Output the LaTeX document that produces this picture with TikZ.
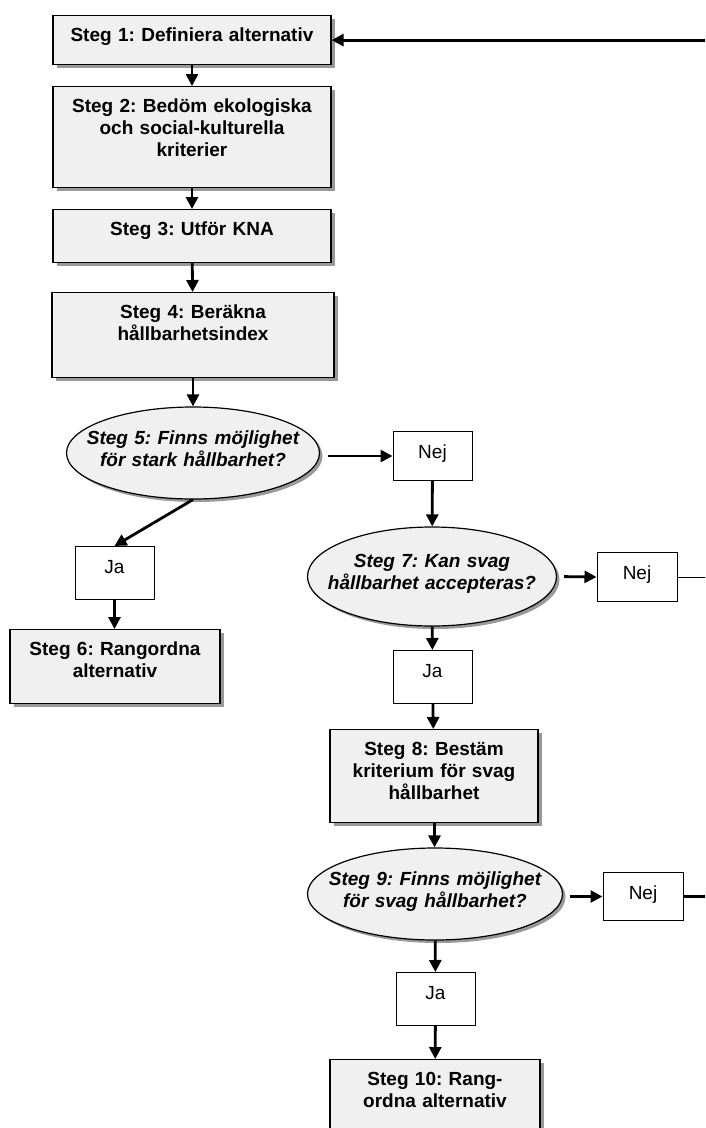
\documentclass[tikz,border=0pt]{standalone}
\usepackage{fontspec}
\setmainfont{Liberation Sans}
\usepackage{tikz}
\usetikzlibrary{arrows.meta}
\usetikzlibrary{shapes.geometric,shadows}
\usetikzlibrary{positioning}
\colorlet{boxfill}{black!6}
\colorlet{shadowgray}{black!40}
\frenchspacing

\begin{document}
\begin{tikzpicture}[
x=1pt, y=-1pt,
StepBox/.style={rectangle,draw,line width=1.2pt,fill=boxfill,anchor=north,align=center,
  inner xsep=4pt,inner ysep=0pt,text height=26pt,font=\bfseries\fontsize{19}{22}\selectfont,
  drop shadow={shadow xshift=3.5pt,shadow yshift=-3.5pt,fill=shadowgray,opacity=1}},
Question/.style={ellipse,draw,line width=1.2pt,fill=boxfill,align=center,text width=240pt,
  inner xsep=-40pt,inner ysep=0pt,text height=15pt,text depth=33pt,
  font=\bfseries\itshape\fontsize{19}{22}\selectfont,
  drop shadow={shadow xshift=3pt,shadow yshift=-3pt,fill=shadowgray,opacity=1}},
Answer/.style={rectangle,draw,line width=1pt,fill=white,anchor=north,align=center,
  minimum width=79pt,inner sep=0pt,text height=27pt,font=\fontsize{19}{22}\selectfont},
Flow/.style={-{Triangle[length=12pt,width=12pt]},line width=2.8pt},
Exit/.style={line width=#1}
]
\clip (0,0) rectangle (705,1128);

% right edge of the page, where the loop lines run out
\coordinate (edge) at (712,0);

% left column
\node[StepBox,text width=270pt,text depth=23pt] (s1) at (192,15) {Steg 1: Definiera alternativ};
\node[StepBox,text width=270pt,text depth=75pt] (s2) at (192,86) {Steg 2: Bedöm ekologiska\\och social-kulturella\\kriterier};
\node[StepBox,text width=270pt,text depth=27pt] (s3) at (192,209) {Steg 3: Utför KNA};
\node[StepBox,text width=274pt,text depth=59pt] (s4) at (193,292) {Steg 4: Beräkna\\hållbarhetsindex};
\node[Question,minimum width=253pt,minimum height=92pt] (q5) at (193,453) {Steg 5: Finns möjlighet\\för stark hållbarhet?};
\node[Answer,text depth=26pt] (j5) at (114.5,546) {Ja};
\node[StepBox,text width=202pt,text depth=48pt] (s6) at (115,629) {Steg 6: Rangordna\\alternativ};

% right column
\node[Answer,text depth=22pt] (n5) at (432.5,431) {Nej};
\node[Question,minimum width=249pt,minimum height=99pt] (q7) at (432,576.5) {Steg 7: Kan svag\\hållbarhet accepteras?};
\node[Answer,minimum width=80pt,text depth=22pt] (n7) at (637,552) {Nej};
\node[Answer,text depth=26pt] (j7) at (432.5,650) {Ja};
\node[StepBox,text width=200pt,text depth=67pt] (s8) at (434,729) {Steg 8: Bestäm\\kriterium för svag\\hållbarhet};
\node[Question,minimum width=255pt,minimum height=92pt] (q9) at (435,894) {Steg 9: Finns möjlighet\\för svag hållbarhet?};
\node[Answer,minimum width=80pt,text depth=21pt] (n9) at (643,872) {Nej};
\node[Answer,text depth=26pt] (j9) at (435.5,972) {Ja};
\node[StepBox,text width=202pt,text depth=60pt] (s10) at (435,1059) {Steg 10: Rang-\\ordna alternativ};

% connectors
\draw[Flow] (edge |- s1.east) -- (s1.east);
\draw[Flow] (s1) -- (s2);
\draw[Flow] (s2) -- (s3);
\draw[Flow] (s3) -- (s4);
\draw[Flow] (s4) -- (q5);
\draw[Flow,shorten <=8pt] (q5.east |- n5.west) -- (n5.west);
\draw[Flow] (q5.south) -- (j5.north);
\draw[Flow] (j5.south) -- (j5.south |- s6.north);
\draw[Flow] (n5) -- (q7);
\draw[Flow,shorten <=7pt] (q7.east) -- (n7.west);
\draw[Exit=1pt] (n7.east) -- (n7.east -| edge);
\draw[Flow] (q7) -- (j7);
\draw[Flow] (j7) -- (s8);
\draw[Flow] (s8) -- (q9);
\draw[Flow,shorten <=7pt] (q9.east |- n9.west) -- (n9.west);
\draw[Exit=2.8pt] (n9.east) -- (n9.east -| edge);
\draw[Flow] (q9) -- (j9);
\draw[Flow] (j9) -- (s10);

\end{tikzpicture}
\end{document}
